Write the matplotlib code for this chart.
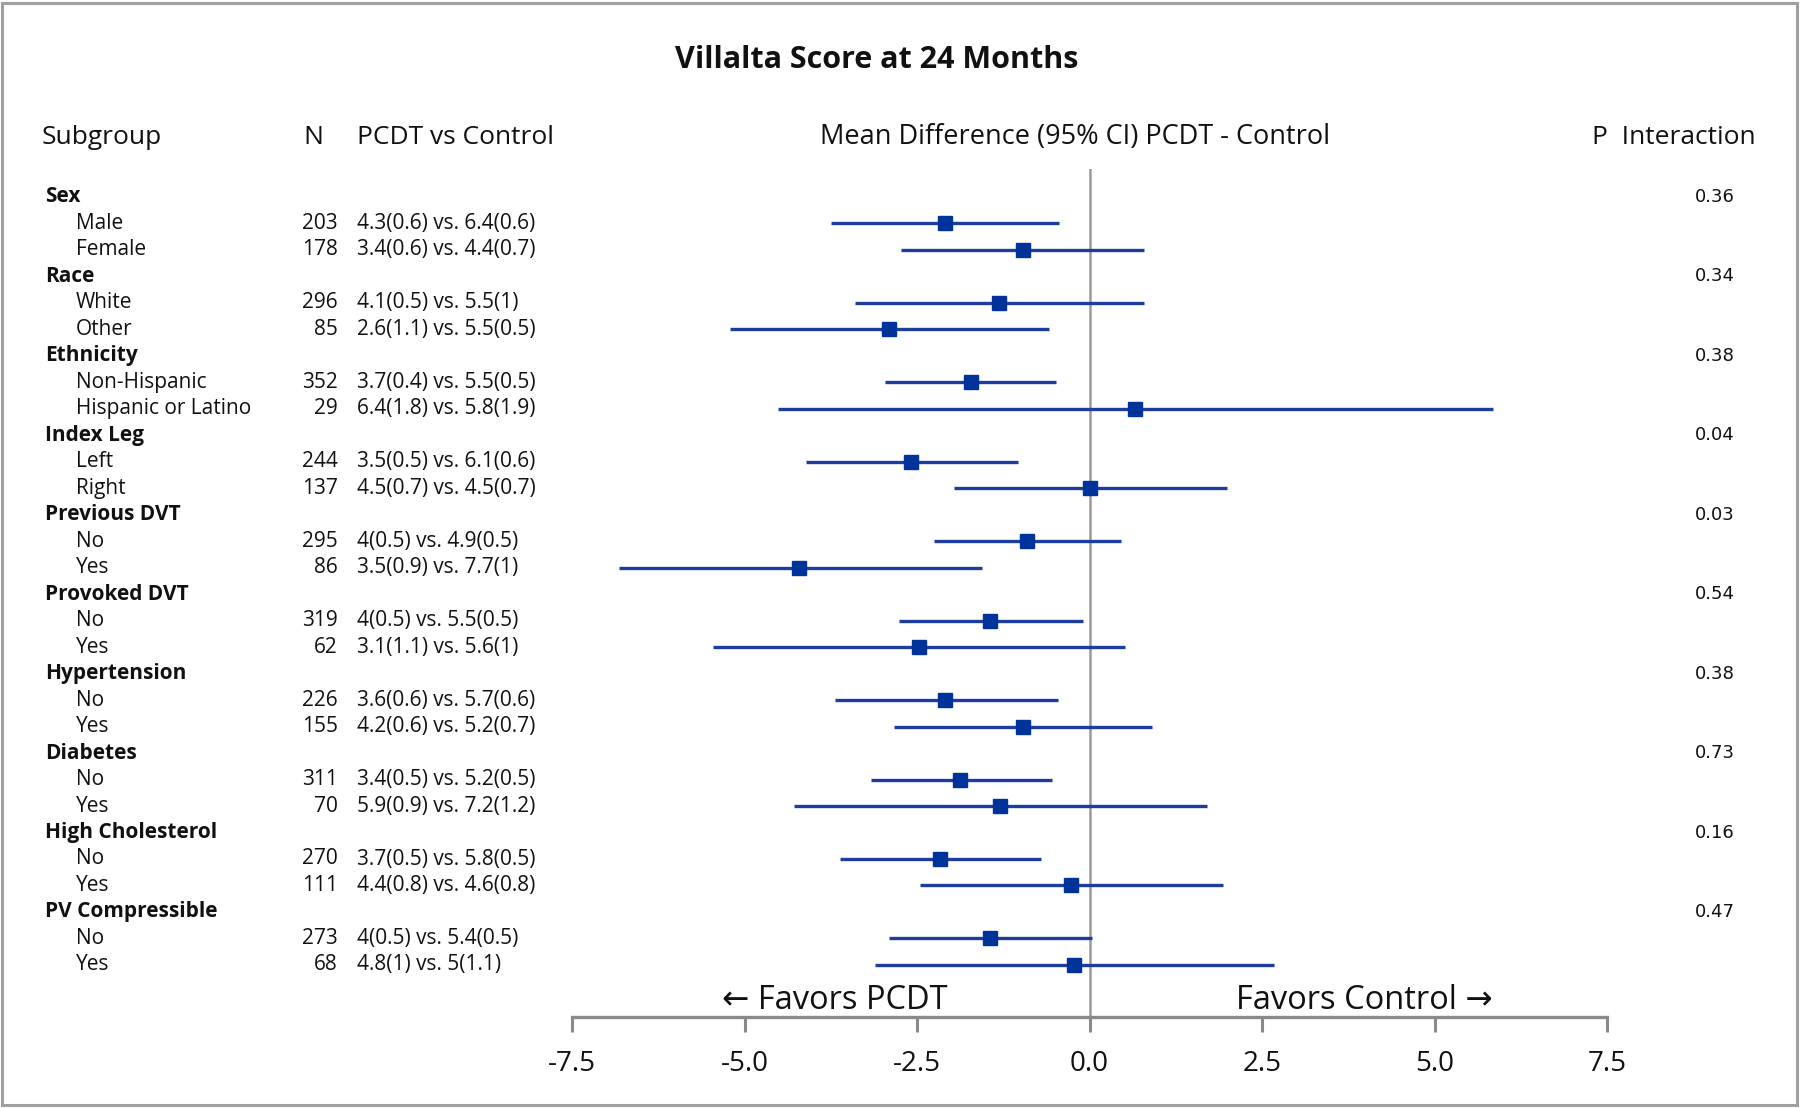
import matplotlib
matplotlib.use("Agg")
import matplotlib.pyplot as plt
import matplotlib.transforms as mtransforms
from matplotlib.patches import Rectangle

plt.rcParams['font.family'] = ['Open Sans', 'DejaVu Sans']

# data
groups = ["Sex", "Race", "Ethnicity", "Index Leg", "Previous DVT", "Provoked DVT",
          "Hypertension", "Diabetes", "High Cholesterol", "PV Compressible"]
p_interaction = ["0.36", "0.34", "0.38", "0.04", "0.03", "0.54", "0.38", "0.73", "0.16", "0.47"]
levels = [["Male", "Female"], ["White", "Other"], ["Non-Hispanic", "Hispanic or Latino"],
          ["Left", "Right"], ["No", "Yes"], ["No", "Yes"], ["No", "Yes"], ["No", "Yes"],
          ["No", "Yes"], ["No", "Yes"]]
n_vals = [203, 178, 296, 85, 352, 29, 244, 137, 295, 86, 319, 62, 226, 155, 311, 70, 270, 111, 273, 68]
compare = ["4.3(0.6) vs. 6.4(0.6)", "3.4(0.6) vs. 4.4(0.7)",
           "4.1(0.5) vs. 5.5(1)", "2.6(1.1) vs. 5.5(0.5)",
           "3.7(0.4) vs. 5.5(0.5)", "6.4(1.8) vs. 5.8(1.9)",
           "3.5(0.5) vs. 6.1(0.6)", "4.5(0.7) vs. 4.5(0.7)",
           "4(0.5) vs. 4.9(0.5)", "3.5(0.9) vs. 7.7(1)",
           "4(0.5) vs. 5.5(0.5)", "3.1(1.1) vs. 5.6(1)",
           "3.6(0.6) vs. 5.7(0.6)", "4.2(0.6) vs. 5.2(0.7)",
           "3.4(0.5) vs. 5.2(0.5)", "5.9(0.9) vs. 7.2(1.2)",
           "3.7(0.5) vs. 5.8(0.5)", "4.4(0.8) vs. 4.6(0.8)",
           "4(0.5) vs. 5.4(0.5)", "4.8(1) vs. 5(1.1)"]
mean_diff = [-2.10, -0.97, -1.31, -2.90, -1.72, 0.66, -2.59, 0.0, -0.91, -4.21,
             -1.44, -2.47, -2.09, -0.97, -1.87, -1.29, -2.17, -0.27, -1.44, -0.23]
ci_low = [-3.74, -2.73, -3.40, -5.21, -2.97, -4.51, -4.11, -1.96, -2.25, -6.82,
          -2.76, -5.45, -3.69, -2.83, -3.17, -4.28, -3.62, -2.45, -2.90, -3.11]
ci_high = [-0.44, 0.79, 0.79, -0.59, -0.48, 5.85, -1.04, 1.99, 0.45, -1.56,
           -0.10, 0.52, -0.45, 0.90, -0.54, 1.71, -0.70, 1.94, 0.04, 2.67]

W, H = 1800, 1108
fig = plt.figure(figsize=(W / 100, H / 100), dpi=100)

def fx(px):
    return px / W

def fy(py):
    return 1 - py / H

# forest axes: x -7.5..7.5 spans pixels 572..1607, rows from y=169 to spine at 1017
ax = fig.add_axes([fx(572), fy(1017), fx(1607) - fx(572), fy(169) - fy(1017)])
row0, step = 197, 26.48
ax.set_ylim((1017 - row0) / step, (169 - row0) / step)
ax.set_xlim(-7.5, 7.5)

blue_line = "#1c3d9e"
blue_mark = "#00339a"
txt = "#111111"

ax.axvline(0, color="#9a9a9a", lw=1.8, zorder=1)

rows = []
for g in range(len(groups)):
    rows += [3 * g + 1, 3 * g + 2]

ax.hlines(rows, ci_low, ci_high, color=blue_line, lw=2.4, zorder=2)
ax.plot(mean_diff, rows, ls="none", marker="s", ms=9.5, color=blue_mark, zorder=3)

for s in ["top", "right", "left"]:
    ax.spines[s].set_visible(False)
ax.spines["bottom"].set_color("#8a8a8a")
ax.spines["bottom"].set_linewidth(2.4)
ax.set_yticks([])
ax.set_xticks([-7.5, -5.0, -2.5, 0.0, 2.5, 5.0, 7.5])
ax.set_xticklabels(["-7.5", "-5.0", "-2.5", "0.0", "2.5", "5.0", "7.5"])
ax.tick_params(axis="x", length=10.5, width=2.2, color="#8a8a8a", labelsize=20,
               labelcolor=txt, pad=13)

ax.text(-2.05, 30.33, "\u2190 Favors PCDT", ha="right", va="center", fontsize=23.5, color=txt)
ax.text(2.13, 30.33, "Favors Control \u2192", ha="left", va="center", fontsize=23.5, color=txt)

# text columns: x in figure pixels, y in row units
tr = mtransforms.blended_transform_factory(fig.transFigure, ax.transData)

k = 0
for g, name in enumerate(groups):
    r = 3 * g
    ax.text(fx(45), r, name, transform=tr, ha="left", va="center", fontsize=15,
            fontweight="bold", color=txt, clip_on=False)
    ax.text(fx(1735), r, p_interaction[g], transform=tr, ha="right", va="center",
            fontsize=13, family=["DejaVu Sans"], color=txt, clip_on=False)
    for j, lev in enumerate(levels[g]):
        rr = r + 1 + j
        ax.text(fx(76), rr, lev, transform=tr, ha="left", va="center", fontsize=15,
                color=txt, clip_on=False)
        ax.text(fx(338), rr, str(n_vals[k]), transform=tr, ha="right", va="center",
                fontsize=15, color=txt, clip_on=False)
        ax.text(fx(357), rr, compare[k], transform=tr, ha="left", va="center",
                fontsize=15, color=txt, clip_on=False)
        k += 1

# headers
hy = fy(137)
fig.text(fx(42), hy, "Subgroup", ha="left", va="center", fontsize=19, color=txt)
fig.text(fx(303), hy, "N", ha="left", va="center", fontsize=19, color=txt)
fig.text(fx(357), hy, "PCDT vs Control", ha="left", va="center", fontsize=19, color=txt)
fig.text(fx(820), hy, "Mean Difference (95% CI) PCDT - Control", ha="left", va="center",
         fontsize=19.5, color=txt)
fig.text(fx(1756), hy, "P  Interaction", ha="right", va="center", fontsize=19, color=txt)

fig.text(fx(877), fy(60), "Villalta Score at 24 Months", ha="center", va="center",
         fontsize=22, fontweight="bold", color=txt)

fig.add_artist(Rectangle((fx(2), fy(1105)), fx(1795), 1 - fy(1103) - 0.0005,
                         transform=fig.transFigure, fill=False, edgecolor="#a0a0a0", lw=2.2))

fig.savefig("out.png", dpi=100, facecolor="white")
